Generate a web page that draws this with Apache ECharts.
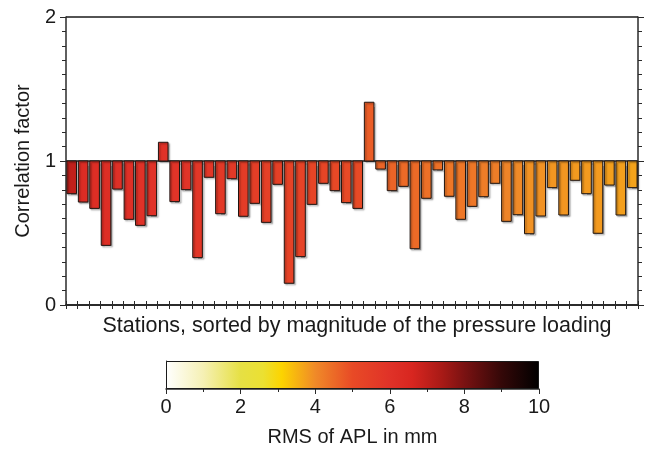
<!DOCTYPE html>
<html><head><meta charset="utf-8">
<script src="https://cdn.jsdelivr.net/npm/echarts@6/dist/echarts.min.js"></script>
<style>html,body{margin:0;padding:0;background:#fff}#c{width:646px;height:449px}</style>
</head><body><div id="c"></div>
<script>
// Correlation factor per station (sorted by magnitude of pressure loading)
var corr = [0.773,0.715,0.671,0.414,0.805,0.595,0.553,0.620,1.130,0.718,
            0.801,0.329,0.887,0.634,0.877,0.616,0.706,0.574,0.838,0.151,
            0.336,0.699,0.845,0.794,0.711,0.671,1.408,0.944,0.794,0.824,
            0.391,0.741,0.938,0.755,0.595,0.685,0.752,0.845,0.581,0.627,
            0.495,0.618,0.815,0.625,0.866,0.773,0.498,0.833,0.625,0.815];
// RMS of APL in mm per station (estimated from colours)
var rms = [7.0,6.3,6.2,6.2,6.1,6.1,6.0,6.0,6.0,5.9,
           5.9,5.8,5.8,5.7,5.7,5.6,5.5,5.4,5.4,5.3,
           5.3,5.2,5.2,5.1,5.0,5.0,4.7,4.6,4.6,4.5,
           4.5,4.4,4.4,4.3,4.3,4.3,4.2,4.2,4.1,4.0,
           3.9,3.9,3.85,3.85,3.8,3.8,3.8,3.75,3.75,3.7];
var stations = corr.map(function(_, i){ return 'S' + (i + 1); });
var yTicks = [0, 1, 2];
var cbarTicks = [0, 2, 4, 6, 8, 10];
// colour scale of the colour bar: [value in mm, colour]
var scaleStops = [[0,'#ffffff'],[1,'#f5f0b4'],[2,'#e6e044'],[2.6,'#ebe032'],[3.1,'#fcd400'],
                  [4,'#f08a28'],[5,'#e84a26'],[6,'#e03228'],[6.6,'#d82620'],[7.4,'#a81a16'],
                  [8,'#7a1212'],[9,'#340808'],[10,'#000000']];

function hex2rgb(h){ return [parseInt(h.substr(1,2),16),parseInt(h.substr(3,2),16),parseInt(h.substr(5,2),16)]; }
function colorAt(v){
  for (var i = 0; i < scaleStops.length - 1; i++){
    var a = scaleStops[i], b = scaleStops[i+1];
    if (v >= a[0] && v <= b[0]){
      var t = (v - a[0]) / (b[0] - a[0]);
      var ca = hex2rgb(a[1]), cb = hex2rgb(b[1]);
      return 'rgb(' + ca.map(function(c, k){ return Math.round(c + (cb[k]-c)*t); }).join(',') + ')';
    }
  }
  return scaleStops[scaleStops.length-1][1];
}

var FONT = "'Liberation Sans', Arial, Helvetica, sans-serif";
var FS = 20;
var AX = '#2a2a2a';
var chart = echarts.init(document.getElementById('c'), null, {renderer: 'canvas'});

var catAxisBase = {
  type: 'category', data: stations, gridIndex: 0, boundaryGap: true,
  axisLine: {show: true, lineStyle: {color: AX, width: 1.5}},
  axisTick: {show: true, interval: 0, inside: false, length: 4, lineStyle: {color: AX, width: 1}},
  axisLabel: {show: false}, splitLine: {show: false}
};
var valAxisBase = {
  type: 'value', gridIndex: 0, min: 0, max: 2, interval: 1,
  axisLine: {show: true, lineStyle: {color: AX, width: 1.5}},
  axisTick: {show: true, inside: false, length: 6, lineStyle: {color: AX, width: 1}},
  minorTick: {show: true, splitNumber: 10, length: 4, lineStyle: {color: AX, width: 1}},
  splitLine: {show: false}
};

var option = {
  backgroundColor: '#fff',
  animation: false,
  textStyle: {fontFamily: FONT},
  grid: [
    {left: 66, right: 8, top: 17, bottom: 144, containLabel: false},
    {left: 166, width: 373, top: 361, height: 28, containLabel: false}
  ],
  xAxis: [
    Object.assign({}, catAxisBase, {
      position: 'bottom',
      name: 'Stations, sorted by magnitude of the pressure loading',
      nameLocation: 'middle', nameGap: 10,
      nameTextStyle: {fontSize: 21.5, color: '#1a1a1a', fontFamily: FONT, verticalAlign: 'top', padding: [0, 0, 0, 10]}
    }),
    Object.assign({}, catAxisBase, {position: 'top'}),
    {
      type: 'value', gridIndex: 1, min: 0, max: 10, interval: 2,
      axisLine: {show: true, lineStyle: {color: AX, width: 1.5}},
      axisTick: {show: true, length: 5, lineStyle: {color: AX, width: 1}},
      minorTick: {show: true, splitNumber: 2, length: 3, lineStyle: {color: AX, width: 1}},
      axisLabel: {show: true, fontSize: FS, color: '#1a1a1a', fontFamily: FONT, margin: 8,
        formatter: function(v){ return cbarTicks.indexOf(v) >= 0 ? String(v) : ''; }},
      splitLine: {show: false},
      name: 'RMS of APL in mm', nameLocation: 'middle', nameGap: 38,
      nameTextStyle: {fontSize: FS, color: '#1a1a1a', fontFamily: FONT, verticalAlign: 'top'}
    }
  ],
  yAxis: [
    Object.assign({}, valAxisBase, {
      position: 'left',
      axisLabel: {show: true, fontSize: FS, color: '#1a1a1a', fontFamily: FONT, margin: 10,
        formatter: function(v){ return yTicks.indexOf(v) >= 0 ? String(v) : ''; }},
      splitLine: {show: true, lineStyle: {color: '#1a1a1a', width: 1.5}},
      name: 'Correlation factor', nameLocation: 'middle', nameGap: 29, nameRotate: 90,
      nameTextStyle: {fontSize: FS, color: '#1a1a1a', fontFamily: FONT}
    }),
    Object.assign({}, valAxisBase, {position: 'right', axisLabel: {show: false}}),
    {
      type: 'category', gridIndex: 1, data: ['RMS'],
      axisLine: {show: true, lineStyle: {color: AX, width: 1}},
      axisTick: {show: false}, axisLabel: {show: false}
    }
  ],
  series: [
    {
      type: 'custom', xAxisIndex: 0, yAxisIndex: 0,
      data: corr.map(function(v, i){ return [i, v, rms[i]]; }),
      encode: {x: 0, y: 1},
      renderItem: function(params, api){
        var i = api.value(0), v = api.value(1), r = api.value(2);
        var p1 = api.coord([i, 1]);
        var p2 = api.coord([i, v]);
        var w = api.size([1, 0])[0] * 0.84;
        var y0 = Math.min(p1[1], p2[1]), h = Math.abs(p2[1] - p1[1]);
        return {
          type: 'rect',
          shape: {x: p1[0] - w / 2, y: y0, width: w, height: h},
          style: {
            fill: colorAt(r), stroke: '#1e1410', lineWidth: 1,
            shadowColor: 'rgba(0,0,0,0.35)', shadowBlur: 1.5, shadowOffsetX: 1.5, shadowOffsetY: 1.5
          }
        };
      },
      z: 3
    },
    {
      type: 'bar', xAxisIndex: 2, yAxisIndex: 2, data: [10], barWidth: '100%',
      itemStyle: {
        color: new echarts.graphic.LinearGradient(0, 0, 1, 0,
          scaleStops.map(function(s){ return {offset: s[0] / 10, color: s[1]}; })),
        borderColor: '#1a1a1a', borderWidth: 1
      },
      silent: true
    }
  ]
};
chart.setOption(option);
</script></body></html>
